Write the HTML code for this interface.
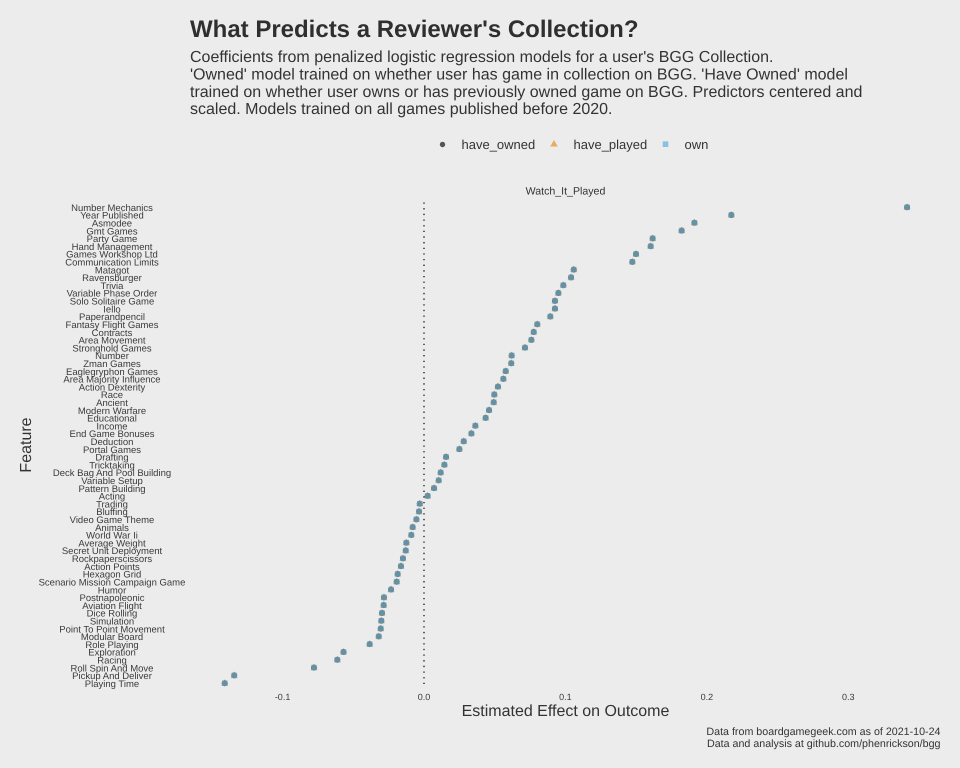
<!DOCTYPE html>
<html lang="en">
<head>
<meta charset="utf-8">
<title>What Predicts a Reviewer's Collection?</title>
<style>
html,body{margin:0;padding:0;background:#ececec;}
svg{display:block;font-family:"Liberation Sans",Arial,sans-serif;text-rendering:geometricPrecision;}
</style>
</head>
<body>
<svg id="chart" xmlns="http://www.w3.org/2000/svg" width="960" height="768" viewBox="0 0 960 768">
  <rect x="0" y="0" width="960" height="768" fill="#ececec"/>
  <text x="190" y="37" font-size="24" font-weight="700" fill="#2f2f2f">What Predicts a Reviewer's Collection?</text>
  <g font-size="16" fill="#333333">
    <text x="190" y="62">Coefficients from penalized logistic regression models for a user's BGG Collection.</text>
    <text x="190" y="79.5">'Owned' model trained on whether user has game in collection on BGG. 'Have Owned' model</text>
    <text x="190" y="97">trained on whether user owns or has previously owned game on BGG. Predictors centered and</text>
    <text x="190" y="114">scaled. Models trained on all games published before 2020.</text>
  </g>
  <g font-size="13" fill="#333333">
    <g>
      <circle cx="442.5" cy="144.5" r="2.7" fill="#555555"/>
      <text x="461.5" y="149">have_owned</text>
    </g>
    <g>
      <polygon points="554,140 557.8,146.5 550.2,146.5" fill="#e6ae5c"/>
      <text x="573.5" y="149">have_played</text>
    </g>
    <g>
      <rect x="662.7" y="141.4" width="5.6" height="5.6" fill="#8cc0e0"/>
      <text x="684.5" y="149">own</text>
    </g>
  </g>
  <text x="565.5" y="194.5" font-size="10.6" text-anchor="middle" fill="#333333">Watch_It_Played</text>
  <line x1="424" y1="202.5" x2="424" y2="687" stroke="#111111" stroke-width="1.3" stroke-dasharray="1.3 4.35"/>
  <g id="y-labels" font-size="9.5" text-anchor="middle" fill="#3a3a3a"></g>
  <g id="x-ticks" font-size="9" text-anchor="middle" fill="#3a3a3a"></g>
  <g id="marks"></g>
  <text x="565.5" y="716" font-size="16" text-anchor="middle" fill="#333333">Estimated Effect on Outcome</text>
  <text transform="translate(31,445) rotate(-90)" font-size="16" text-anchor="middle" fill="#333333">Feature</text>
  <g font-size="10.7" text-anchor="end" fill="#333333">
    <text x="940.5" y="735">Data from boardgamegeek.com as of 2021-10-24</text>
    <text x="940.5" y="747">Data and analysis at github.com/phenrickson/bgg</text>
  </g>
</svg>
<script>
var features = ["Number Mechanics","Year Published","Asmodee","Gmt Games","Party Game","Hand Management","Games Workshop Ltd","Communication Limits","Matagot","Ravensburger","Trivia","Variable Phase Order","Solo Solitaire Game","Iello","Paperandpencil","Fantasy Flight Games","Contracts","Area Movement","Stronghold Games","Number","Zman Games","Eaglegryphon Games","Area Majority Influence","Action Dexterity","Race","Ancient","Modern Warfare","Educational","Income","End Game Bonuses","Deduction","Portal Games","Drafting","Tricktaking","Deck Bag And Pool Building","Variable Setup","Pattern Building","Acting","Trading","Bluffing","Video Game Theme","Animals","World War Ii","Average Weight","Secret Unit Deployment","Rockpaperscissors","Action Points","Hexagon Grid","Scenario Mission Campaign Game","Humor","Postnapoleonic","Aviation Flight","Dice Rolling","Simulation","Point To Point Movement","Modular Board","Role Playing","Exploration","Racing","Roll Spin And Move","Pickup And Deliver","Playing Time"];
var haveOwned = [0.3416,0.2173,0.1912,0.1822,0.1617,0.1603,0.1499,0.1473,0.1059,0.1040,0.0985,0.0950,0.0926,0.0926,0.0893,0.0801,0.0776,0.0759,0.0714,0.0620,0.0617,0.0578,0.0561,0.0523,0.0497,0.0493,0.0460,0.0436,0.0363,0.0335,0.0281,0.0250,0.0156,0.0144,0.0118,0.0104,0.0071,0.0026,-0.0030,-0.0035,-0.0054,-0.0080,-0.0090,-0.0125,-0.0129,-0.0149,-0.0163,-0.0186,-0.0193,-0.0233,-0.0283,-0.0285,-0.0297,-0.0302,-0.0306,-0.0320,-0.0384,-0.0569,-0.0613,-0.0778,-0.1342,-0.1409];
var havePlayed = [0.3416,0.2173,0.1912,0.1822,0.1617,0.1603,0.1499,0.1473,0.1059,0.1040,0.0985,0.0950,0.0926,0.0926,0.0893,0.0801,0.0776,0.0759,0.0714,0.0620,0.0617,0.0578,0.0561,0.0523,0.0497,0.0493,0.0460,0.0436,0.0363,0.0335,0.0281,0.0250,0.0156,0.0144,0.0118,0.0104,0.0071,0.0026,-0.0030,-0.0035,-0.0054,-0.0080,-0.0090,-0.0125,-0.0129,-0.0149,-0.0163,-0.0186,-0.0193,-0.0233,-0.0283,-0.0285,-0.0297,-0.0302,-0.0306,-0.0320,-0.0384,-0.0569,-0.0613,-0.0778,-0.1342,-0.1409];
var own = [0.3416,0.2173,0.1912,0.1822,0.1617,0.1603,0.1499,0.1473,0.1059,0.1040,0.0985,0.0950,0.0926,0.0926,0.0893,0.0801,0.0776,0.0759,0.0714,0.0620,0.0617,0.0578,0.0561,0.0523,0.0497,0.0493,0.0460,0.0436,0.0363,0.0335,0.0281,0.0250,0.0156,0.0144,0.0118,0.0104,0.0071,0.0026,-0.0030,-0.0035,-0.0054,-0.0080,-0.0090,-0.0125,-0.0129,-0.0149,-0.0163,-0.0186,-0.0193,-0.0233,-0.0283,-0.0285,-0.0297,-0.0302,-0.0306,-0.0320,-0.0384,-0.0569,-0.0613,-0.0778,-0.1342,-0.1409];
var xTickValues = [-0.1,0,0.1,0.2,0.3];
var xTickLabels = ["-0.1","0.0","0.1","0.2","0.3"];

var SVG_NS = "http://www.w3.org/2000/svg";
function xScale(v){ return 424 + v * 1414.2; }
function yScale(i){ return 207.2 + i * (476 / (features.length - 1)); }
function make(tag, attrs){
  var el = document.createElementNS(SVG_NS, tag);
  for (var k in attrs) { el.setAttribute(k, attrs[k]); }
  return el;
}
var yGroup = document.getElementById("y-labels");
var xGroup = document.getElementById("x-ticks");
var markGroup = document.getElementById("marks");

features.forEach(function(name, i){
  var t = make("text", {x: 112, y: yScale(i) + 3.7});
  
  
  t.textContent = name;
  yGroup.appendChild(t);
});

xTickValues.forEach(function(v, i){
  var t = make("text", {x: xScale(v), y: 700});
  
  
  t.textContent = xTickLabels[i];
  xGroup.appendChild(t);
});

havePlayed.forEach(function(v, i){
  var x = xScale(v), y = yScale(i);
  var p = make("polygon", {points: x + "," + (y - 4) + " " + (x + 3.5) + "," + (y + 2.3) + " " + (x - 3.5) + "," + (y + 2.3), fill: "#e69f3c"});
  
  
  markGroup.appendChild(p);
});

haveOwned.forEach(function(v, i){
  var c = make("circle", {cx: xScale(v), cy: yScale(i), r: 3, fill: "#4d4d4d"});
  
  
  markGroup.appendChild(c);
});

own.forEach(function(v, i){
  var x = xScale(v), y = yScale(i);
  var r = make("rect", {x: x - 2.8, y: y - 2.8, width: 5.6, height: 5.6, fill: "#70aac6", "fill-opacity": 0.72});
  
  
  markGroup.appendChild(r);
});
</script>
</body>
</html>
